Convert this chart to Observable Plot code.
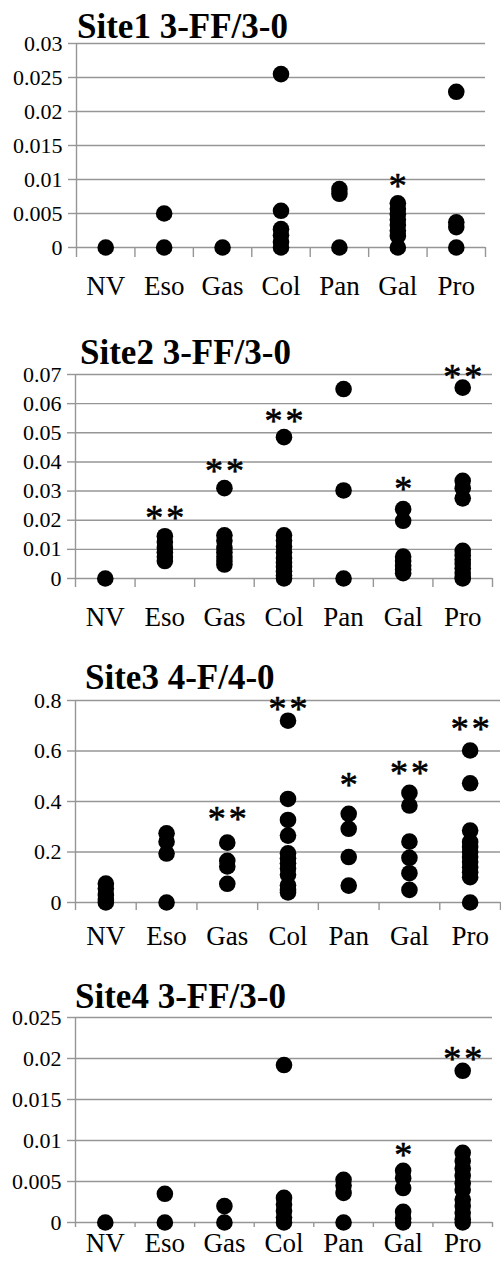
<!DOCTYPE html>
<html>
<head>
<meta charset="utf-8">
<script src="https://cdn.jsdelivr.net/npm/d3@7"></script>
<script src="https://cdn.jsdelivr.net/npm/@observablehq/plot@0.6"></script>
<style>
  html, body { margin: 0; padding: 0; background: #fff; }
  #root { position: relative; width: 501px; height: 1272px; overflow: hidden; background: #fff; }
  .title { position: absolute; font-family: "Liberation Serif", "Times New Roman", serif; font-weight: bold; font-size: 35px; line-height: 35px; color: #000; white-space: nowrap; z-index: 2; }
  .panel { position: absolute; left: 0; z-index: 1; }
  .panel text { font-family: "Liberation Serif", "Times New Roman", serif !important; font-variant: normal !important; }
</style>
</head>
<body>
<div id="root"></div>
<script>
// ---------- data ----------
const categories = ["NV", "Eso", "Gas", "Col", "Pan", "Gal", "Pro"];
const titles = ["Site1 3-FF/3-0", "Site2 3-FF/3-0", "Site3 4-F/4-0", "Site4 3-FF/3-0"];

// values per category (NV, Eso, Gas, Col, Pan, Gal, Pro)
const site1Values = [
  [0],
  [0.005, 0],
  [0],
  [0.0255, 0.0054, 0.0027, 0.0018, 0.0008, 0],
  [0.0086, 0.0079, 0],
  [0.0065, 0.0057, 0.0049, 0.0041, 0.0033, 0.0025, 0.0017, 0],
  [0.0229, 0.0037, 0.003, 0]
];
const site2Values = [
  [0],
  [0.0145, 0.0125, 0.0105, 0.009, 0.0075, 0.006],
  [0.031, 0.0148, 0.013, 0.0105, 0.009, 0.0075, 0.006, 0.0048],
  [0.0485, 0.0148, 0.013, 0.011, 0.009, 0.007, 0.0055, 0.004, 0.0025, 0.001, 0],
  [0.065, 0.0302, 0],
  [0.0238, 0.0198, 0.0075, 0.006, 0.0045, 0.003, 0.0018],
  [0.0655, 0.0335, 0.031, 0.0275, 0.0095, 0.008, 0.0065, 0.005, 0.0035, 0.002, 0.0005, 0]
];
const site3Values = [
  [0.075, 0.055, 0.03, 0.01, 0],
  [0.274, 0.241, 0.194, 0],
  [0.237, 0.165, 0.143, 0.074],
  [0.72, 0.41, 0.327, 0.265, 0.195, 0.175, 0.155, 0.135, 0.11, 0.068, 0.05, 0.04],
  [0.351, 0.292, 0.18, 0.067],
  [0.434, 0.384, 0.241, 0.177, 0.116, 0.05],
  [0.602, 0.472, 0.285, 0.24, 0.22, 0.2, 0.18, 0.16, 0.14, 0.12, 0.1, 0]
];
const site4Values = [
  [0],
  [0.0035, 0],
  [0.002, 0],
  [0.0192, 0.003, 0.0022, 0.0014, 0.0006, 0],
  [0.0052, 0.0045, 0.0036, 0],
  [0.0063, 0.0054, 0.0042, 0.0013, 0.0005, 0],
  [0.0185, 0.0085, 0.0075, 0.0066, 0.0057, 0.0048, 0.004, 0.0028, 0.002, 0.0012, 0.0004, 0]
];

// significance markers and the value at which each is drawn
const site1Stars = ["", "", "", "", "", "*", ""];
const site1StarAt = [0, 0, 0, 0, 0, 0.0098, 0];
const site2Stars = ["", "**", "**", "**", "", "*", "**"];
const site2StarAt = [0, 0.0226, 0.0387, 0.0558, 0, 0.0325, 0.0709];
const site3Stars = ["", "", "**", "**", "*", "**", "**"];
const site3StarAt = [0, 0, 0.352, 0.788, 0.487, 0.535, 0.709];
const site4Stars = ["", "", "", "", "", "*", "**"];
const site4StarAt = [0, 0, 0, 0, 0, 0.0089, 0.0206];

// y-axis ticks
const site1Ticks = [0, 0.005, 0.01, 0.015, 0.02, 0.025, 0.03];
const site2Ticks = [0, 0.01, 0.02, 0.03, 0.04, 0.05, 0.06, 0.07];
const site3Ticks = [0, 0.2, 0.4, 0.6, 0.8];
const site4Ticks = [0, 0.005, 0.01, 0.015, 0.02, 0.025];

// ---------- layout ----------
const layouts = [
  {top: 43,   zero: 247,  left: 76, right: 485, tick: 10, pad: 28, tx: 77, tb: 38},
  {top: 374,  zero: 578,  left: 75, right: 492, tick: 9,  pad: 28, tx: 80, tb: 364},
  {top: 700,  zero: 902,  left: 75, right: 500, tick: 8,  pad: 23, tx: 85, tb: 689},
  {top: 1017, zero: 1222, left: 75, right: 492, tick: 5,  pad: 10, tx: 75, tb: 1008}
];
const panels = [
  {values: site1Values, stars: site1Stars, starAt: site1StarAt, ticks: site1Ticks},
  {values: site2Values, stars: site2Stars, starAt: site2StarAt, ticks: site2Ticks},
  {values: site3Values, stars: site3Stars, starAt: site3StarAt, ticks: site3Ticks},
  {values: site4Values, stars: site4Stars, starAt: site4StarAt, ticks: site4Ticks}
];

const GRAY = "#969696";
const FONT = "'Liberation Serif', 'Times New Roman', serif";
const MT = 35, MB = 60;
const root = document.getElementById("root");

panels.forEach((p, k) => {
  const L = layouts[k];
  const points = [];
  p.values.forEach((vals, i) => vals.forEach(v => points.push({i: i + 0.5, v})));
  const marks = p.stars.map((s, i) => ({i: i + 0.5, s: s.split("").join("\u200A"), v: p.starAt[i]})).filter(d => d.s);
  const ymax = p.ticks[p.ticks.length - 1];
  const chart = Plot.plot({
    width: 501,
    height: MT + (L.zero - L.top) + MB,
    marginTop: MT,
    marginBottom: MB,
    marginLeft: L.left,
    marginRight: 501 - L.right,
    x: {domain: [0, categories.length]},
    y: {domain: [0, ymax]},
    style: {background: "none", overflow: "visible", fontFamily: FONT, color: "#000"},
    marks: [
      Plot.gridY(p.ticks, {stroke: GRAY, strokeOpacity: 1, strokeWidth: 1.4}),
      Plot.axisY(p.ticks, {tickSize: 8, tickPadding: 6, stroke: GRAY, strokeWidth: 1.4, fill: "#000", fontSize: 22, fontFamily: FONT, tickFormat: d => String(d), label: null}),
      Plot.ruleX([0], {stroke: GRAY, strokeWidth: 1.4}),
      Plot.axisX(d3.range(categories.length + 1), {tickSize: L.tick, stroke: GRAY, strokeWidth: 1.4, tickFormat: () => "", label: null}),
      Plot.axisX(categories.map((c, i) => i + 0.5), {tickSize: 0, tickPadding: L.pad, fill: "#000", fontSize: 27, fontFamily: FONT, tickFormat: d => categories[Math.floor(d)], label: null}),
      Plot.dot(points, {x: "i", y: "v", r: 8.3, fill: "#000", stroke: "none"}),
      Plot.text(marks, {x: "i", y: "v", text: "s", fontSize: 36, fontFamily: FONT, fill: "#000", stroke: "#000", strokeWidth: 0.6, lineAnchor: "middle", dy: 6})
    ]
  });
  chart.classList.add("panel");
  chart.style.top = (L.top - MT) + "px";
  root.appendChild(chart);

  const t = document.createElement("div");
  t.className = "title";
  t.textContent = titles[k];
  t.style.left = L.tx + "px";
  t.style.top = (L.tb - 29) + "px";
  root.appendChild(t);
});
</script>
</body>
</html>
